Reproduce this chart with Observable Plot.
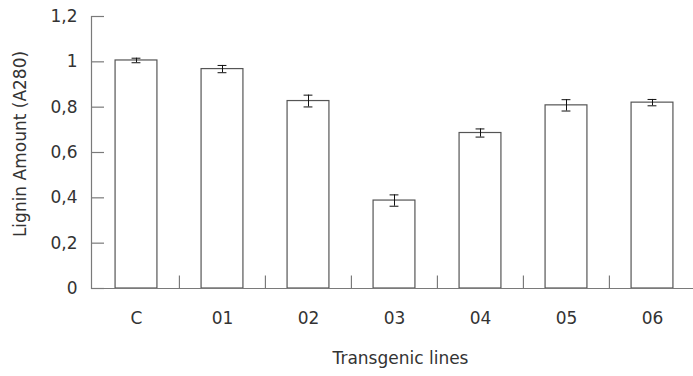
<!DOCTYPE html>
<html><head><meta charset="utf-8">
<script src="https://cdn.jsdelivr.net/npm/d3@7"></script>
<script src="https://cdn.jsdelivr.net/npm/@observablehq/plot@0.6"></script>
<style>body{margin:0;background:#fff} svg{display:block}</style>
</head><body><div id="chart"></div>
<script>
const categories = ["C","01","02","03","04","05","06"];
const values = [1.006,0.968,0.827,0.388,0.686,0.808,0.820];
const errors = [0.010,0.016,0.026,0.025,0.018,0.025,0.014];
const yTicks = [0,0.2,0.4,0.6,0.8,1,1.2];
const yLabel = "Lignin Amount (A280)";
const xLabel = "Transgenic lines";

const data = categories.map((c,i)=>({cat:c, val:values[i], lo:values[i]-errors[i], hi:values[i]+errors[i]}));
const W=693, H=376, mL=91, mT=16, mB=88, mR=0;
const xRange=[92,695];
const step=(xRange[1]-xRange[0])/categories.length;
const frameW = W-mL-mR, frameH = H-mT-mB;
const barW = 42, capW = 9;
const axisColor = "#7a7a7a";
const fmt = d => String(d).replace(".", ",");

const chart = Plot.plot({
  width: W, height: H,
  marginLeft: mL, marginTop: mT, marginBottom: mB, marginRight: mR,
  style: {fontFamily: "'DejaVu Sans', sans-serif", fontSize: "17px", color: "#333", background: "#fff"},
  x: {type: "band", domain: categories, range: xRange, padding: 0},
  y: {domain: [0, 1.2]},
  marks: [
    Plot.barY(data, {x: "cat", y: "val", fill: "white", stroke: "#555", strokeWidth: 1.2,
      insetLeft: (step-barW)/2, insetRight: (step-barW)/2}),
    Plot.ruleX(data, {x: "cat", y1: "lo", y2: "hi", stroke: "#111", strokeWidth: 1}),
    Plot.tickY(data, {x: "cat", y: "lo", stroke: "#111", insetLeft: (step-capW)/2, insetRight: (step-capW)/2}),
    Plot.tickY(data, {x: "cat", y: "hi", stroke: "#111", insetLeft: (step-capW)/2, insetRight: (step-capW)/2}),
    Plot.ruleY(yTicks, {y: d => d, stroke: axisColor, strokeWidth: 1.2, insetRight: frameW - 13}),
    Plot.ruleY([0], {stroke: axisColor, strokeWidth: 1.2}),
    Plot.frame({anchor: "left", stroke: axisColor, strokeWidth: 1.2}),
    Plot.ruleX(categories.slice(1), {x: d => d, dx: -step/2, stroke: axisColor, strokeWidth: 1.2, insetTop: frameH - 12.5}),
    Plot.axisY({ticks: yTicks, tickSize: 0, tickPadding: 14, tickFormat: fmt, label: null, fontSize: 17}),
    Plot.axisX({tickSize: 0, tickPadding: 23, label: null, fontSize: 17}),
    Plot.text([yLabel], {frameAnchor: "left", textAnchor: "middle", rotate: -90, dx: -70.5, dy: -8.5, fontSize: 17, fill: "#333"}),
    Plot.text([xLabel], {frameAnchor: "bottom", textAnchor: "middle", dx: 8, dy: 75.5, fontSize: 17, fill: "#333"})
  ]
});
document.getElementById("chart").appendChild(chart);
</script>
</body></html>
